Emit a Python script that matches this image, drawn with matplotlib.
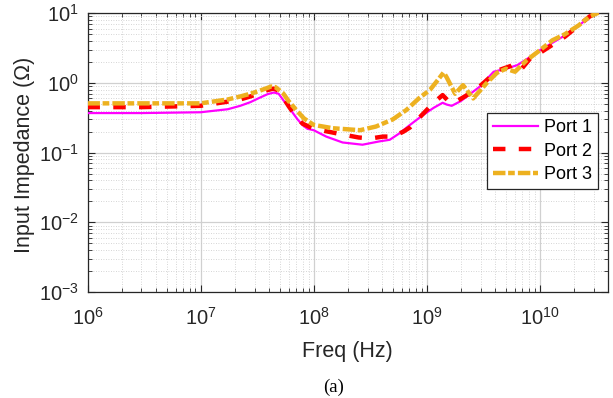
import matplotlib
matplotlib.use("Agg")
import matplotlib.pyplot as plt
from matplotlib.ticker import LogLocator, NullFormatter

plt.rcParams['font.family'] = ['Liberation Sans', 'DejaVu Sans']
plt.rcParams['mathtext.fontset'] = 'custom'
plt.rcParams['mathtext.rm'] = 'Liberation Sans'
plt.rcParams['mathtext.it'] = 'Liberation Sans:italic'
plt.rcParams['mathtext.bf'] = 'Liberation Sans:bold'
plt.rcParams['axes.unicode_minus'] = False

# ---- data ----
freq_p1 = [1e6, 3e6, 1e7, 1.74e7, 2.24e7, 2.75e7, 3.3e7, 3.9e7, 4.44e7, 4.9e7,
           5.37e7, 6.03e7, 6.55e7, 7.2e7, 7.94e7, 8.8e7, 1.0e8, 1.29e8, 1.8e8,
           2.7e8, 3.8e8, 4.7e8, 5.75e8, 7.1e8, 9.1e8, 1.15e9, 1.38e9, 1.5e9,
           1.66e9, 2.0e9, 2.95e9, 3.9e9, 5.0e9, 6.3e9, 8.0e9, 1.0e10, 1.3e10,
           1.66e10, 2.2e10, 2.75e10, 3.3e10]
z_p1 = [0.37, 0.37, 0.38, 0.42, 0.47, 0.53, 0.61, 0.69, 0.73, 0.70,
        0.57, 0.45, 0.37, 0.30, 0.25, 0.22, 0.21, 0.17, 0.14,
        0.13, 0.145, 0.153, 0.19, 0.25, 0.34, 0.44, 0.52, 0.49,
        0.47, 0.55, 0.89, 1.45, 1.6, 1.8, 2.3, 2.95, 3.8,
        4.8, 6.6, 9.0, 10.3]

freq_p2 = [1e6, 3e6, 1e7, 1.74e7, 2.24e7, 2.75e7, 3.3e7, 3.9e7, 4.4e7, 4.9e7,
           5.37e7, 6.03e7, 6.55e7, 7.2e7, 8.0e7, 1.0e8, 1.58e8, 2.5e8, 3.2e8,
           4.1e8, 5.0e8, 6.2e8, 7.1e8, 9.1e8, 1.15e9, 1.38e9, 1.55e9, 1.7e9,
           2.2e9, 2.95e9, 4.2e9, 5.5e9, 6.03e9, 6.9e9, 8.3e9, 1.0e10, 1.66e10,
           2.75e10, 3.3e10]
z_p2 = [0.45, 0.45, 0.47, 0.54, 0.58, 0.64, 0.71, 0.79, 0.83, 0.78,
        0.62, 0.46, 0.38, 0.31, 0.26, 0.22, 0.19, 0.165, 0.16,
        0.17, 0.17, 0.20, 0.23, 0.35, 0.52, 0.67, 0.55, 0.51,
        0.65, 0.90, 1.5, 1.75, 1.9, 1.6, 2.3, 2.7, 4.6,
        9.0, 10.3]

freq_p3 = [1e6, 3e6, 1e7, 1.74e7, 2.24e7, 2.75e7, 3.3e7, 3.9e7, 4.2e7, 4.6e7,
           5.37e7, 6.0e7, 7.1e7, 8.2e7, 1.0e8, 1.48e8, 2.57e8, 3.55e8, 5.0e8,
           6.6e8, 8.5e8, 1.07e9, 1.25e9, 1.41e9, 1.5e9, 1.78e9, 2.09e9, 2.57e9,
           3.39e9, 4.17e9, 5.01e9, 6.03e9, 7.59e9, 1.0e10, 1.29e10, 1.66e10,
           2.2e10, 2.75e10, 3.3e10]
z_p3 = [0.51, 0.51, 0.51, 0.58, 0.64, 0.70, 0.77, 0.85, 0.89, 0.87,
        0.71, 0.55, 0.40, 0.31, 0.25, 0.224, 0.21, 0.237, 0.30,
        0.41, 0.60, 0.80, 1.1, 1.42, 1.2, 0.70, 0.93, 0.60,
        1.0, 1.4, 1.6, 1.45, 2.1, 2.95, 4.1, 5.0,
        6.7, 9.0, 10.2]

labels = ["Port 1", "Port 2", "Port 3"]
xlim = (1e6, 4e10)
ylim = (1e-3, 1e1)

# ---- figure ----
fig = plt.figure(figsize=(6.13, 3.98), dpi=100)
ax = fig.add_axes([87.5 / 613, 1 - 292 / 398, (608 - 87.5) / 613, (292 - 13.3) / 398])

ax.plot(freq_p1, z_p1, color='#FF00FF', lw=1.6, label=labels[0], zorder=3)
ax.plot(freq_p2, z_p2, color='#FF0000', lw=3.2, dashes=(2.8, 3.0), label=labels[1], zorder=4)
ax.plot(freq_p3, z_p3, color='#EDB120', lw=3.2, dashes=(2.8, 0.6, 1.5, 0.7), label=labels[2], zorder=5)

ax.set_xscale('log')
ax.set_yscale('log')
ax.set_xlim(*xlim)
ax.set_ylim(*ylim)

ax.xaxis.set_major_locator(LogLocator(base=10, numticks=20))
ax.yaxis.set_major_locator(LogLocator(base=10, numticks=20))
ax.xaxis.set_minor_locator(LogLocator(base=10, subs=range(2, 10), numticks=50))
ax.yaxis.set_minor_locator(LogLocator(base=10, subs=range(2, 10), numticks=50))
ax.xaxis.set_minor_formatter(NullFormatter())
ax.yaxis.set_minor_formatter(NullFormatter())

ax.grid(True, which='major', color='#d0d0d0', lw=0.9, ls='-')
ax.grid(True, which='minor', color='#c8c8c8', lw=0.6, ls=(0, (1, 2)))
ax.set_axisbelow(True)

for s in ax.spines.values():
    s.set_color('#262626')
    s.set_linewidth(0.9)

ax.tick_params(which='both', direction='in', top=True, right=True, colors='#262626',
               labelcolor='#262626')
ax.tick_params(which='major', length=5, width=0.8, labelsize=14.5)
ax.tick_params(which='minor', length=3, width=0.6)
ax.tick_params(axis='x', which='major', pad=11)
ax.tick_params(axis='y', which='major', pad=6)

ax.set_xlabel('Freq (Hz)', fontsize=15.5, color='#262626')
ax.set_ylabel('Input Impedance (Ω)', fontsize=15.5, color='#262626')
ax.xaxis.set_label_coords(0.5, -0.175)
ax.yaxis.set_label_coords(-0.1, 0.493)

leg = ax.legend(loc='upper right', bbox_to_anchor=((598 - 87.5) / 520.5, (292 - 113) / 278.7),
                fontsize=13, frameon=True, fancybox=False, framealpha=1,
                edgecolor='#262626', handlelength=2.5, handletextpad=0.3,
                labelspacing=0.35, borderpad=0.35, borderaxespad=0)
leg.get_frame().set_linewidth(0.9)

fig.text(334 / 613, 1 - 387 / 398, '(a)', fontsize=13.5, family='Liberation Serif',
         ha='center', va='center', color='black')

fig.savefig('out.png', dpi=100)
